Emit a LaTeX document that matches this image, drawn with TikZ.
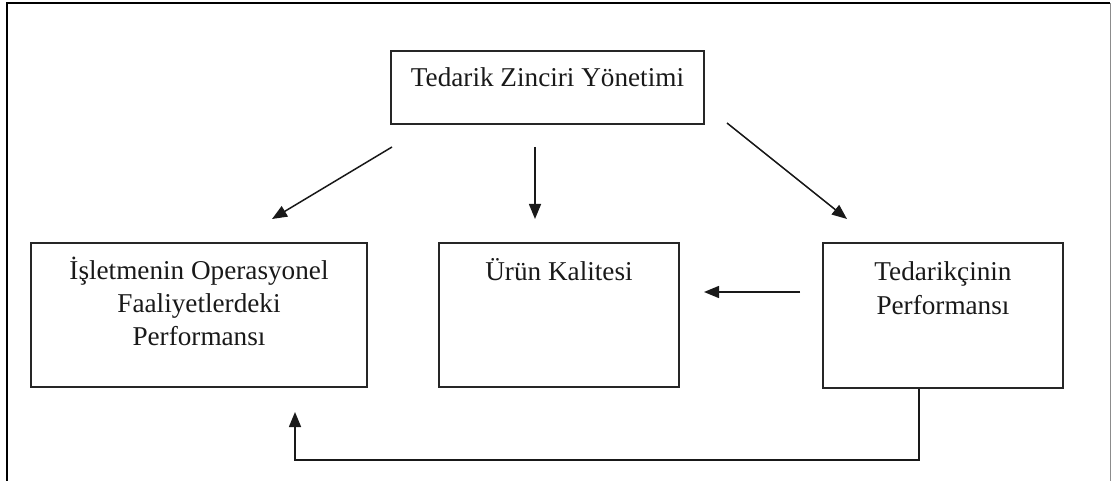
\documentclass[tikz,border=0pt]{standalone}
\usepackage{fontspec}
\setmainfont{Liberation Serif}
\usetikzlibrary{arrows.meta}
\begin{document}
\begin{tikzpicture}[x=1pt,y=-1pt,
  box/.style={draw=black!85,line width=2pt,rectangle,inner sep=0pt},
  lbl/.style={font=\fontsize{27.2}{33}\selectfont,align=center,anchor=base,inner sep=0pt,text=black!90},
  arr/.style={draw=black!90,line width=1.5pt,-{Triangle[length=15pt,width=12pt]}}]
\useasboundingbox (0,0) rectangle (1111,481);
% outer frame
\draw[line width=2pt] (7,481) -- (7,3.5) -- (1110,3.5);
\draw[line width=1pt,black!45] (1110,3.5) -- (1110,481);
% boxes
\node[box,minimum width=313pt,minimum height=73pt] (top) at (547.5,87.5) {};
\node[box,minimum width=336pt,minimum height=144pt] (left) at (199,315) {};
\node[box,minimum width=240pt,minimum height=144pt] (mid) at (559,315) {};
\node[box,minimum width=240pt,minimum height=145pt] (right) at (943,315.5) {};
% labels (base anchor = baseline of the last line)
\node[lbl] (ttop) at (547.5,87) {Tedarik Zinciri Yönetimi};
\node[lbl] (tleft) at (199,345) {İşletmenin Operasyonel\\Faaliyetlerdeki\\Performansı};
\node[lbl] (tmid) at (559,280) {Ürün Kalitesi};
\node[lbl,font=\fontsize{27.2}{34}\selectfont] (tright) at (943,314) {Tedarikçinin\\Performansı};
% arrow end points
\coordinate (a1s) at (392,147);
\coordinate (a1e) at (272,219);
\coordinate (a2s) at (535,147);
\coordinate (a2e) at (535,219);
\coordinate (a3s) at (727,123);
\coordinate (a3e) at (847,219);
\coordinate (a4s) at (800,292);
\coordinate (a4e) at (704,292);
\coordinate (f1) at (919,460);
\coordinate (f2) at (295,460);
\coordinate (f3) at (295,412);
\draw[arr] (a1s) -- (a1e);
\draw[arr] (a2s) -- (a2e);
\draw[arr] (a3s) -- (a3e);
\draw[arr] (a4s) -- (a4e);
\draw[arr] (right.south -| f1) -- (f1) -- (f2) -- (f3);
\end{tikzpicture}
\end{document}
